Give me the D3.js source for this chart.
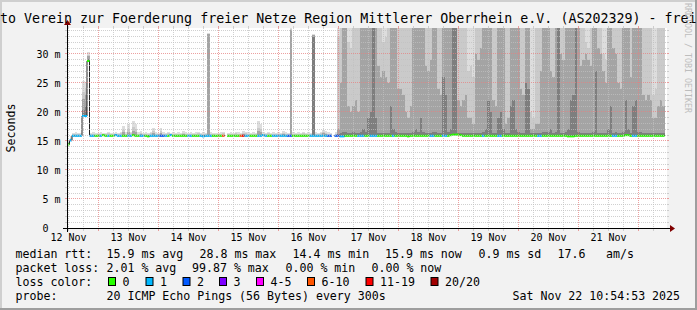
<!DOCTYPE html>
<html>
<head>
<meta charset="utf-8">
<script src="https://cdn.jsdelivr.net/npm/d3@7"></script>
<style>
  body { margin: 0; background: #f2f2f2; }
  svg { display: block; font-family: "DejaVu Sans Mono", monospace; }
</style>
</head>
<body>
<svg id="graph" width="697" height="310"></svg>
<script>
// one sample per hour, left edge of the graph = 12 Nov 11:24 (wall clock, kept in UTC)
var start = new Date(Date.UTC(2025, 10, 12, 11, 24));

// median rtt in ms (null = no data)
var median = [
  14.4, 15.1, 15.9, 15.9, 15.9, 15.9, 19.3, 19.3, 28.8, 15.9, 15.9, 15.9,
  15.9, 15.9, 16.0, 15.9, 15.9, 15.9, 15.9, 16.0, 15.9, 15.9, 15.9, 15.9,
  15.9, 15.9, 16.0, 15.9, 15.9, 15.9, 15.9, 15.9, 15.8, 15.9, 15.9, 15.9,
  15.9, 15.9, 15.9, 15.9, 15.9, 16.0, 15.9, 15.9, 15.9, 15.9, 15.9, 15.9,
  15.9, 15.9, 15.9, 15.9, 15.9, 15.9, 15.8, 15.9, 15.9, 15.9, 15.9, 15.9,
  15.9, 15.9, 15.9, null, 15.9, 15.9, 15.9, 15.9, 15.9, 15.9, 15.9, 15.9,
  15.9, 15.9, 15.9, 15.9, 15.9, 15.9, 16.0, 15.9, 15.9, 15.9, 15.9, 15.9,
  15.9, 15.9, 15.9, 15.9, 15.9, 15.9, 15.9, 15.9, 15.9, 15.9, 15.9, 15.9,
  15.9, 15.9, 15.9, 15.9, 15.9, 15.9, 15.9, 15.9, 15.9, 15.9, null, 15.9,
  15.9, 15.8, 15.8, 15.9, 15.9, 15.9, 15.9, 15.9, 15.9, 15.9, 15.9, 15.9,
  15.9, 15.9, 15.9, 15.9, 15.9, 15.9, 15.9, 15.9, 15.9, 15.9, 15.9, 15.9,
  15.9, 15.9, 15.9, 15.9, 15.8, 15.9, 15.9, 15.9, 15.9, 15.9, 15.9, 15.9,
  15.9, 15.9, 15.9, 15.9, 15.9, 15.9, 15.9, 15.9, 15.9, 16.0, 16.1, 16.1,
  16.1, 16.0, 15.9, 15.9, 15.9, 15.9, 15.9, 15.9, 15.9, 15.9, 15.9, 15.9,
  15.9, 15.9, 15.9, 15.9, 15.9, 15.9, 15.9, 15.9, 15.9, 15.9, 15.9, 15.9,
  15.9, 15.9, 15.9, 15.9, 15.9, 15.9, 15.9, 15.9, 15.9, 15.9, 15.9, 15.9,
  15.9, 15.9, 15.9, 15.9, 15.9, 15.9, 15.9, 15.9, 15.8, 15.8, 15.8, 15.9,
  15.9, 15.9, 15.9, 15.9, 15.9, 15.9, 15.9, 15.9, 15.9, 15.9, 15.9, 15.9,
  15.9, 15.9, 15.9, 15.9, 15.9, 15.9, 15.9, 16.0, 16.0, 15.9, 15.9, 15.9,
  15.9, 15.9, 15.9, 15.9, 15.9, 15.9, 15.9, 15.9, 15.9, 15.9, 15.9, null
];

// lost pings out of 20
var loss = [
  0, 1, 1, 1, 1, 1, 1, 1, 0, 1, 1, 0,
  0, 1, 0, 0, 1, 0, 0, 1, 1, 1, 0, 0,
  1, 1, 0, 0, 0, 1, 1, 0, 0, 1, 1, 1,
  1, 2, 2, 1, 0, 1, 0, 0, 0, 0, 0, 0,
  1, 1, 0, 0, 0, 1, 1, 1, 1, 1, 0, 0,
  0, 0, 7, 20, 0, 0, 0, 0, 0, 8, 12, 1,
  1, 0, 0, 0, 1, 1, 1, 1, 0, 0, 1, 1,
  1, 1, 1, 1, 2, 2, 0, 0, 0, 0, 0, 0,
  0, 1, 1, 1, 1, 1, 1, 1, 2, 2, 20, 2,
  2, 1, 1, 0, 0, 0, 0, 0, 1, 1, 1, 0,
  0, 1, 1, 1, 0, 0, 0, 0, 0, 0, 1, 0,
  0, 0, 0, 0, 0, 0, 0, 0, 0, 0, 0, 0,
  0, 1, 1, 0, 0, 0, 1, 1, 0, 0, 0, 0,
  0, 0, 0, 0, 0, 0, 0, 0, 0, 0, 1, 0,
  0, 0, 0, 0, 1, 1, 0, 0, 0, 0, 0, 0,
  0, 0, 0, 0, 0, 0, 0, 0, 1, 1, 0, 0,
  0, 0, 0, 0, 0, 0, 0, 0, 0, 0, 0, 0,
  0, 0, 0, 0, 0, 0, 0, 0, 0, 0, 0, 0,
  0, 0, 1, 1, 0, 0, 0, 0, 0, 0, 1, 1,
  0, 0, 0, 0, 0, 0, 0, 0, 0, 0, 0, 0
];

// smoke: ping times (ms) of the 1st, 2nd, 4th and 6th slowest ping (99 = off the top)
var ping1 = [
  15.2, 15.8, 16.4, 16.5, 16.4, 16.3, 25.3, 25.0, 30.3, 16.4, 16.5, 16.3,
  16.4, 16.5, 16.3, 16.4, 16.6, 16.4, 16.3, 16.5, 16.4, 16.6, 17.6, 16.5,
  17.9, 16.6, 18.4, 18.0, 16.5, 16.8, 16.4, 16.5, 16.4, 16.6, 17.3, 16.5,
  16.4, 17.3, 16.5, 16.4, 16.6, 16.4, 16.5, 16.4, 16.5, 16.4, 16.7, 16.5,
  16.4, 16.5, 16.4, 16.5, 16.6, 16.4, 16.5, 16.4, 33.6, 16.5, 16.4, 16.3,
  16.4, 16.5, 16.6, null, 16.4, 16.5, 16.4, 16.6, 16.5, 16.4, 16.7, 16.6,
  16.5, 16.4, 16.5, 16.4, 18.4, 18.0, 16.5, 16.4, 16.6, 16.4, 16.5, 16.4,
  16.5, 16.4, 16.7, 16.5, 16.4, 34.4, 16.5, 16.4, 16.5, 16.4, 16.6, 16.4,
  16.5, 16.4, 33.4, 16.5, 16.4, 16.6, 16.9, 16.8, 16.5, 16.4, null, 16.5,
  99, 99, 99, 99, 99, 99, 99, 99, 99, 99, 99, 99,
  99, 99, 99, 99, 99, 99, 99, 99, 99, 99, 99, 99,
  99, 99, 99, 99, 99, 99, 99, 99, 99, 99, 99, 99,
  99, 99, 99, 99, 99, 99, 99, 99, 99, 99, 99, 99,
  99, 99, 99, 99, 99, 99, 99, 99, 99, 99, 99, 99,
  99, 99, 99, 99, 99, 99, 99, 99, 99, 99, 99, 99,
  99, 99, 99, 99, 99, 99, 99, 99, 99, 99, 99, 99,
  99, 99, 99, 99, 99, 99, 99, 99, 99, 99, 99, 99,
  99, 99, 99, 99, 99, 99, 99, 99, 99, 99, 99, 99,
  99, 99, 99, 99, 99, 99, 99, 99, 99, 99, 99, 99,
  99, 99, 99, 99, 99, 99, 99, 99, 99, 99, 99, null
];
var ping2 = [
  14.9, 15.5, 16.2, 16.2, 16.2, 16.1, 23.5, 24.0, 29.9, 16.2, 16.2, 16.1,
  16.2, 16.2, 16.2, 16.2, 16.3, 16.2, 16.2, 16.2, 16.2, 16.3, 16.9, 16.2,
  17.0, 16.3, 17.4, 17.1, 16.2, 16.4, 16.2, 16.2, 16.2, 16.3, 16.7, 16.2,
  16.2, 16.7, 16.2, 16.2, 16.3, 16.2, 16.2, 16.2, 16.2, 16.2, 16.4, 16.2,
  16.2, 16.2, 16.2, 16.2, 16.3, 16.2, 16.2, 16.2, 33.5, 16.2, 16.2, 16.1,
  16.2, 16.2, 16.3, null, 16.2, 16.2, 16.2, 16.3, 16.2, 16.2, 16.4, 16.3,
  16.2, 16.2, 16.2, 16.2, 17.3, 17.0, 16.2, 16.2, 16.3, 16.2, 16.2, 16.2,
  16.2, 16.2, 16.4, 16.2, 16.2, 34.3, 16.2, 16.2, 16.2, 16.2, 16.3, 16.2,
  16.2, 16.2, 33.2, 16.2, 16.2, 16.3, 16.5, 16.4, 16.2, 16.2, null, 16.2,
  33, 99, 99, 99, 32, 31, 99, 99, 99, 99, 99, 99,
  99, 99, 99, 99, 99, 99, 32, 33, 99, 99, 99, 99,
  99, 99, 99, 99, 99, 99, 99, 99, 99, 99, 99, 99,
  99, 99, 99, 99, 99, 99, 99, 99, 99, 99, 99, 99,
  99, 99, 99, 99, 27, 28, 26, 99, 99, 99, 99, 99,
  99, 99, 99, 99, 99, 99, 99, 99, 99, 99, 99, 99,
  99, 99, 99, 99, 99, 20, 19, 99, 99, 99, 99, 99,
  99, 99, 99, 99, 99, 99, 99, 99, 99, 99, 99, 99,
  99, 99, 99, 32, 31, 99, 99, 99, 99, 99, 30, 29,
  99, 99, 99, 99, 99, 99, 99, 99, 99, 99, 99, 99,
  99, 99, 99, 99, 99, 99, 23, 24, 99, 99, 99, null
];
var ping4 = [
  14.8, 15.4, 16.1, 16.1, 16.1, 16.0, 22.2, 23.0, 29.6, 16.1, 16.1, 16.0,
  16.1, 16.1, 16.1, 16.1, 16.1, 16.1, 16.1, 16.1, 16.1, 16.1, 16.5, 16.1,
  16.6, 16.1, 16.8, 16.6, 16.1, 16.2, 16.1, 16.1, 16.1, 16.1, 16.4, 16.1,
  16.1, 16.4, 16.1, 16.1, 16.1, 16.1, 16.1, 16.1, 16.1, 16.1, 16.2, 16.1,
  16.1, 16.1, 16.1, 16.1, 16.1, 16.1, 16.1, 16.1, 33.4, 16.1, 16.1, 16.0,
  16.1, 16.1, 16.1, null, 16.1, 16.1, 16.1, 16.1, 16.1, 16.1, 16.2, 16.1,
  16.1, 16.1, 16.1, 16.1, 16.8, 16.6, 16.1, 16.1, 16.1, 16.1, 16.1, 16.1,
  16.1, 16.1, 16.2, 16.1, 16.1, 34.2, 16.1, 16.1, 16.1, 16.1, 16.1, 16.1,
  16.1, 16.1, 33.2, 16.1, 16.1, 16.1, 16.3, 16.2, 16.1, 16.1, null, 16.1,
  17, 25, 99, 99, 21, 20, 21, 22, 20, 99, 99, 99,
  99, 99, 99, 99, 28, 26, 27, 26, 25, 99, 99, 99,
  24, 24, 23, 20, 19, 21, 99, 99, 99, 99, 99, 28,
  27, 29, 99, 99, 24, 23, 99, 99, 99, 99, 99, 99,
  22, 21, 22, 23, 19, 19, 18, 30, 29, 31, 99, 99,
  99, 99, 22, 21, 99, 99, 99, 18, 19, 99, 99, 99,
  99, 24, 23, 99, 99, 17, 17, 18, 18, 27, 99, 99,
  99, 27, 26, 99, 99, 30, 29, 99, 99, 99, 99, 99,
  99, 28, 29, 30, 29, 28, 99, 99, 31, 30, 27, 25,
  99, 99, 31, 30, 25, 24, 99, 99, 99, 26, 99, 99,
  99, 99, 23, 22, 23, 22, 19, 19, 21, 22, 21, null
];
var ping6 = [
  14.6, 15.2, 16.0, 16.0, 16.0, 15.9, 20.3, 21.0, 29.1, 16.0, 16.0, 15.9,
  16.0, 16.0, 16.0, 16.0, 16.0, 16.0, 16.0, 16.0, 16.0, 16.0, 16.0, 16.0,
  16.0, 16.0, 16.0, 16.0, 16.0, 16.0, 16.0, 16.0, 16.0, 16.0, 16.0, 16.0,
  16.0, 16.0, 16.0, 16.0, 16.0, 16.0, 16.0, 16.0, 16.0, 16.0, 16.0, 16.0,
  16.0, 16.0, 16.0, 16.0, 16.0, 16.0, 16.0, 16.0, 16.0, 16.0, 16.0, 16.0,
  16.0, 16.0, 16.0, null, 16.0, 16.0, 16.0, 16.0, 16.0, 16.0, 16.0, 16.0,
  16.0, 16.0, 16.0, 16.0, 16.0, 16.0, 16.0, 16.0, 16.0, 16.0, 16.0, 16.0,
  16.0, 16.0, 16.0, 16.0, 16.0, 16.0, 16.0, 16.0, 16.0, 16.0, 16.0, 16.0,
  16.0, 16.0, 33.0, 16.0, 16.0, 16.0, 16.0, 16.0, 16.0, 16.0, null, 16.0,
  16.2, 16.4, 16.5, 16.5, 16.3, 16.3, 16.5, 16.4, 16.4, 16.5, 17, 16.5,
  19, 20, 99, 19, 16.4, 16.4, 16.3, 16.3, 16.4, 21, 17, 16.5,
  16.4, 16.4, 16.4, 16.4, 16.4, 16.4, 16.5, 17, 16.5, 19, 16.5, 16.4,
  16.4, 16.4, 16.5, 16.5, 16.4, 16.4, 26, 23, 16.5, 17, 99, 99,
  16.4, 16.4, 16.4, 16.4, 16.3, 16.3, 16.3, 16.4, 16.4, 16.4, 16.5, 17,
  22, 20, 16.4, 16.4, 19, 20, 17, 16.4, 16.4, 21, 22, 17,
  16.5, 16.4, 16.4, 25, 24, 16.3, 16.3, 16.4, 16.4, 16.4, 16.5, 16.5,
  16.5, 17, 16.4, 16.5, 99, 16.4, 16.4, 16.5, 17, 22, 23, 99,
  16.5, 16.4, 16.4, 16.3, 16.3, 16.4, 16.5, 27, 16.4, 16.4, 16.3, 16.3,
  17, 21, 16.4, 16.5, 16.4, 16.4, 16.5, 22, 17, 16.4, 21, 22,
  16.5, 16.5, 16.4, 16.4, 16.4, 16.4, 16.3, 16.3, 16.4, 16.4, 16.4, null
];

var dayLabels = ["12 Nov", "13 Nov", "14 Nov", "15 Nov", "16 Nov", "17 Nov", "18 Nov", "19 Nov", "20 Nov", "21 Nov"];
var yTicks = [0, 5, 10, 15, 20, 25, 30];
var yTickLabels = ["0", "5 m", "10 m", "15 m", "20 m", "25 m", "30 m"];

var lossLabels = ["0", "1", "2", "3", "4-5", "6-10", "11-19", "20/20"];
var lossUpper = [0, 1, 2, 3, 5, 10, 19, 20];
var lossColors = ["#26ff00", "#00b8ff", "#0059ff", "#7e00ff", "#ff00ff", "#ff5500", "#ff0000", "#a10000"];

var rttStats = ["15.9 ms avg", "28.8 ms max", "14.4 ms min", "15.9 ms now", "0.9 ms sd", "17.6", "am/s"];
var lossStats = ["2.01 % avg", "99.87 % max", "0.00 % min", "0.00 % now"];
var probeText = "20 ICMP Echo Pings (56 Bytes) every 300s";
var stamp = "Sat Nov 22 10:54:53 2025";
var title = "to Verein zur Foerderung freier Netze Region Mittlerer Oberrhein e.V. (AS202329) - frei";

// ---------------------------------------------------------------
var svg = d3.select("#graph");
var X0 = 67, X1 = 667, Y0 = 228, Y1 = 28;
var end = d3.utcHour.offset(start, median.length);

var x = d3.scaleUtc().domain([start, end]).range([X0, X1]);
var y = d3.scaleLinear().domain([0, 34.48]).range([Y0, Y1]);
var yTop = y.domain()[1];

function px(v) { return Math.floor(v) + 0.5; }
function lossColor(n) {
  for (var k = 0; k < lossUpper.length; k++) if (n <= lossUpper[k]) return lossColors[k];
  return lossColors[lossColors.length - 1];
}

// background + frame
svg.append("rect").attr("width", 697).attr("height", 310).attr("fill", "#f2f2f2");
svg.append("rect").attr("x", 0).attr("y", 0).attr("width", 697).attr("height", 2).attr("fill", "#cfcfcf");
svg.append("rect").attr("x", 0).attr("y", 0).attr("width", 2).attr("height", 310).attr("fill", "#cfcfcf");
svg.append("rect").attr("x", 0).attr("y", 308).attr("width", 697).attr("height", 2).attr("fill", "#9e9e9e");
svg.append("rect").attr("x", 695).attr("y", 0).attr("width", 2).attr("height", 310).attr("fill", "#9e9e9e");

svg.append("rect").attr("x", X0).attr("y", Y1).attr("width", X1 - X0).attr("height", Y0 - Y1).attr("fill", "#ffffff");

svg.append("clipPath").attr("id", "plotclip")
  .append("rect").attr("x", X0).attr("y", Y1).attr("width", X1 - X0).attr("height", Y0 - Y1);
var plot = svg.append("g").attr("clip-path", "url(#plotclip)");

var samples = median.map(function(m, i) {
  return {
    t: d3.utcHour.offset(start, i),
    t2: d3.utcHour.offset(start, i + 1),
    m: m,
    loss: loss[i],
    p: [ping1[i], ping2[i], ping4[i], ping6[i]]
  };
});
var live = samples.filter(function(d) { return d.m != null; });

// smoke, outer (light) band first
var smokeColors = ["#dddddd", "#cacaca", "#a4a4a4", "#7e7e7e"];
smokeColors.forEach(function(c, k) {
  plot.append("g").selectAll("rect")
    .data(live.filter(function(d) { return d.p[k] != null && d.p[k] > d.m; }))
    .join("rect")
      .attr("x", function(d) { return x(d.t); })
      .attr("width", function(d) { return x(d.t2) - x(d.t); })
      .attr("y", function(d) { return y(Math.min(d.p[k], yTop)); })
      .attr("height", function(d) { return y(d.m) - y(Math.min(d.p[k], yTop)); })
      .attr("fill", c)
      .attr("shape-rendering", "crispEdges");
});

// dark median line with the steps
var stepPts = [];
samples.forEach(function(d) {
  stepPts.push({ t: d.t, v: d.m });
  stepPts.push({ t: d.t2, v: d.m });
});
var medLine = d3.line()
  .defined(function(d) { return d.v != null; })
  .x(function(d) { return x(d.t); })
  .y(function(d) { return y(d.v); });
plot.append("path")
  .attr("d", medLine(stepPts))
  .attr("fill", "none")
  .attr("stroke", "#202020")
  .attr("stroke-width", 1);

// median coloured by loss
plot.append("g").selectAll("line")
  .data(live)
  .join("line")
    .attr("x1", function(d) { return x(d.t); })
    .attr("x2", function(d) { return x(d.t2); })
    .attr("y1", function(d) { return y(d.m); })
    .attr("y2", function(d) { return y(d.m); })
    .attr("stroke", function(d) { return lossColor(d.loss); })
    .attr("stroke-width", 2);

// grid on top, like rrdtool
var gridMinor = "rgba(192,192,192,0.75)", gridMajor = "rgba(230,128,128,0.75)";
var minorY = d3.range(1, Math.floor(yTop) + 1).filter(function(v) { return v % 5 != 0; });
var majorY = yTicks.filter(function(v) { return v > 0; });
var minorT = d3.utcHour.every(6).range(start, end).filter(function(t) { return t.getUTCHours() != 0; });
var majorT = d3.utcDay.range(start, end);

var grid = svg.append("g").attr("fill", "none").attr("stroke-width", 1);
function hGrid(vals, color) {
  grid.append("g").selectAll("line").data(vals).join("line")
    .attr("x1", X0).attr("x2", X1)
    .attr("y1", function(v) { return px(y(v)); }).attr("y2", function(v) { return px(y(v)); })
    .attr("stroke", color).attr("stroke-dasharray", "1,1");
  grid.append("g").selectAll("path").data(vals).join("path")
    .attr("d", function(v) { var yy = px(y(v)); return "M" + (X0 - 2) + "," + yy + "H" + X0 + "M" + X1 + "," + yy + "H" + (X1 + 2); })
    .attr("stroke", color);
}
function vGrid(vals, color) {
  grid.append("g").selectAll("line").data(vals).join("line")
    .attr("x1", function(t) { return px(x(t)); }).attr("x2", function(t) { return px(x(t)); })
    .attr("y1", Y1).attr("y2", Y0)
    .attr("stroke", color).attr("stroke-dasharray", "1,1");
  grid.append("g").selectAll("path").data(vals).join("path")
    .attr("d", function(t) { var xx = px(x(t)); return "M" + xx + "," + (Y1 - 2) + "V" + Y1 + "M" + xx + "," + Y0 + "V" + (Y0 + 3); })
    .attr("stroke", color);
}
hGrid(minorY, gridMinor);
vGrid(minorT, gridMinor);
hGrid(majorY, gridMajor);
vGrid(majorT, gridMajor);

// axes with arrows
var axisG = svg.append("g");
axisG.append("path").attr("d", "M" + (X0 - 4) + "," + px(Y0) + "H" + (X1 + 4))
  .attr("stroke", "#000").attr("stroke-width", 1).attr("fill", "none");
axisG.append("path").attr("d", "M" + px(X0) + "," + (Y0 + 4) + "V" + (Y1 - 4))
  .attr("stroke", "#000").attr("stroke-width", 1).attr("fill", "none");
axisG.append("path").attr("d", "M" + (X1 + 8) + "," + px(Y0) + "L" + (X1 + 3) + "," + (px(Y0) - 3.5) + "L" + (X1 + 3) + "," + (px(Y0) + 3.5) + "Z")
  .attr("fill", "#800000");
axisG.append("path").attr("d", "M" + px(X0) + "," + (Y1 - 8) + "L" + (px(X0) - 3.5) + "," + (Y1 - 3) + "L" + (px(X0) + 3.5) + "," + (Y1 - 3) + "Z")
  .attr("fill", "#800000");

// y labels
svg.append("g").selectAll("text").data(yTicks).join("text")
  .attr("x", 60.5)
  .attr("y", function(v) { return y(v) + 3.6; })
  .attr("text-anchor", "end")
  .attr("font-size", "10px")
  .attr("fill", "#000")
  .text(function(v, i) { return v === 0 ? yTickLabels[i] + "\u00a0\u00a0" : yTickLabels[i]; });

// x labels, centred on noon of each day
var labelDays = d3.utcDay.range(d3.utcDay.floor(start), end).slice(0, dayLabels.length);
svg.append("g").selectAll("text").data(labelDays).join("text")
  .attr("x", function(d) { return x(d3.utcHour.offset(d, 12)); })
  .attr("y", 241)
  .attr("text-anchor", "middle")
  .attr("font-size", "10px")
  .attr("fill", "#000")
  .text(function(d, i) { return dayLabels[i]; });

// title, vertical label, watermark
svg.append("text").attr("x", 0).attr("y", 23).attr("font-size", "13.3px").attr("fill", "#000").text(title);
svg.append("text").attr("transform", "translate(15,128) rotate(-90)").attr("text-anchor", "middle")
  .attr("font-size", "11.6px").attr("fill", "#000").text("Seconds");
svg.append("text").attr("transform", "translate(684.5,3) rotate(90)")
  .attr("font-size", "8.3px").attr("fill", "#bdbdbd").text("RRDTOOL / TOBI OETIKER");

// legend
var leg = svg.append("g").attr("font-size", "11.6px").attr("fill", "#000");
var rows = [257.5, 271.5, 285.5, 299.5];
function legText(xp, yp, s) { leg.append("text").attr("x", xp).attr("y", yp).text(s); }

legText(15.5, rows[0], "median rtt:");
var rttX = [106.5, 199.5, 292.5, 385, 478.5, 557.5, 606];
rttStats.forEach(function(s, i) { legText(rttX[i], rows[0], s); });

legText(15.5, rows[1], "packet loss:");
var lossX = [106.5, 192, 285.5, 371.5];
lossStats.forEach(function(s, i) { legText(lossX[i], rows[1], s); });

legText(15.5, rows[2], "loss color:");
var boxX = [108, 145.5, 182.5, 219, 256, 307, 365.5, 430.5];
leg.append("g").selectAll("rect").data(lossLabels).join("rect")
  .attr("x", function(d, i) { return boxX[i] + 0.5; })
  .attr("y", 277.5)
  .attr("width", 7).attr("height", 8)
  .attr("fill", function(d, i) { return lossColors[i]; })
  .attr("stroke", "#000").attr("stroke-width", 1);
leg.append("g").selectAll("text").data(lossLabels).join("text")
  .attr("x", function(d, i) { return boxX[i] + 14.5; })
  .attr("y", rows[2])
  .text(function(d) { return d; });

legText(15.5, rows[3], "probe:");
legText(106.5, rows[3], probeText);
legText(512.5, rows[3], stamp);
</script>
</body>
</html>
